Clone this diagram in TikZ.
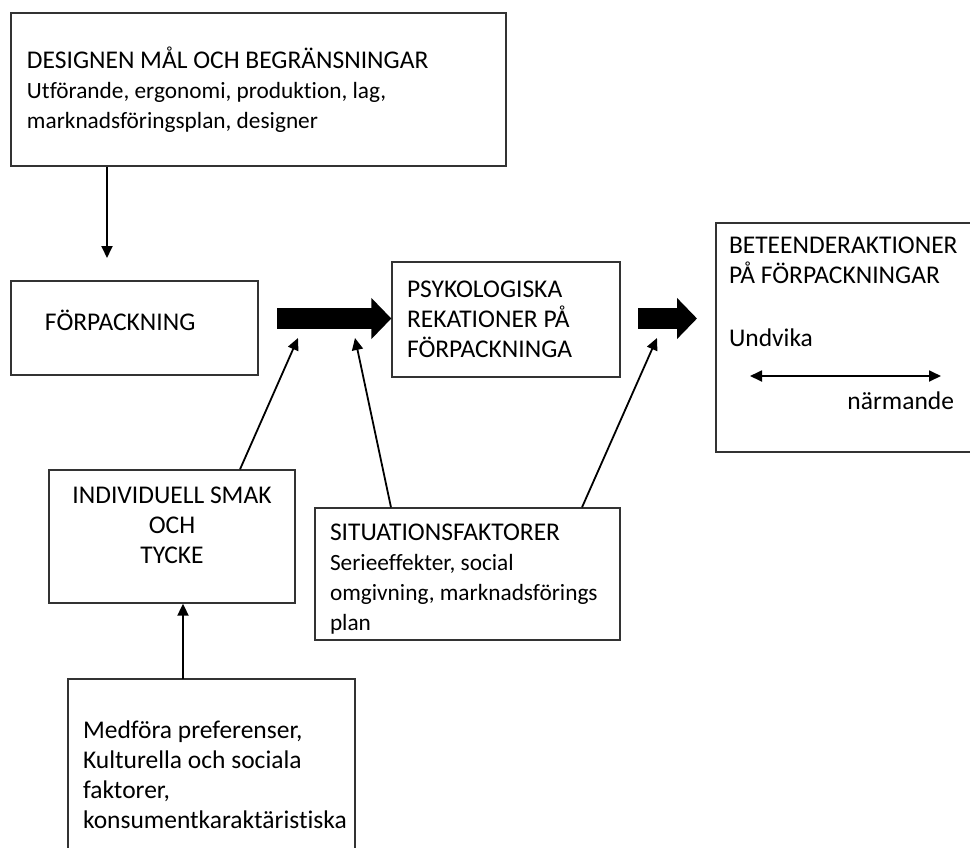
\documentclass[tikz,border=0pt]{standalone}
\usepackage{fontspec}
\setmainfont{Carlito}[Ligatures=NoCommon]
\usetikzlibrary{arrows.meta}
\hyphenpenalty=10000
\exhyphenpenalty=10000
\definecolor{boxline}{HTML}{333333}
\newcommand\bodysize{\fontsize{23.3}{30}\selectfont}
\tikzset{
  font=\fontsize{25.5}{30}\selectfont,
  box/.style={draw=boxline,line width=1.3pt,inner xsep=15pt,inner ysep=0pt,align=flush left},
  link/.style={-{Triangle[length=12pt,width=11pt]},line width=1.8pt},
  twoway/.style={{Triangle[length=12pt,width=11pt]}-{Triangle[length=12pt,width=11pt]},line width=1.8pt},
  bigarrow/.style={-{Triangle[length=20pt,width=40pt]},line width=21pt},
}
\begin{document}
\begin{tikzpicture}[x=1pt,y=-1pt]
  \useasboundingbox (0,0) rectangle (970,847);

  % boxes
  \node[box,inner xsep=16pt,minimum width=495pt,minimum height=153pt,text width=463pt] (design) at (258.5,89.5)
    {DESIGNEN MÅL OCH BEGRÄNSNINGAR\\\bodysize Utförande, ergonomi, produktion, lag,\\marknadsföringsplan, designer};
  \node[box,inner xsep=34pt,minimum width=247pt,minimum height=94pt,text width=179pt] (pack) at (134.5,328)
    {FÖRPACKNING\rule[-15pt]{0pt}{0pt}};
  \node[box,minimum width=228pt,minimum height=115pt,text width=198pt] (psych) at (506,319.5)
    {PSYKOLOGISKA\\REKATIONER~PÅ\\FÖRPACKNINGA};
  \node[box,inner xsep=13pt,minimum width=269pt,minimum height=229pt,text width=243pt] (behav) at (850.5,337.5)
    {BETEENDERAKTIONER\\PÅ FÖRPACKNINGAR\\[33pt]Undvika\\[33pt]\mbox{}\hfill närmande\hspace*{18pt}\rule[-28pt]{0pt}{0pt}};
  \node[box,align=center,minimum width=246pt,minimum height=133pt] (taste) at (172,536.5)
    {INDIVIDUELL SMAK\\OCH\\TYCKE\rule[-23.5pt]{0pt}{0pt}};
  \node[box,minimum width=305pt,minimum height=132pt,text width=275pt] (situation) at (467.5,574)
    {\rule{0pt}{26pt}SITUATIONSFAKTORER\\\bodysize Serieeffekter, social\\omgivning,~marknadsförings\\plan};
  \node[box,minimum width=287pt,minimum height=179.5pt,text width=257pt] (prior) at (211.5,768.75)
    {\rule{0pt}{30pt}Medföra preferenser,\\Kulturella och sociala\\faktorer,\\konsumentkaraktäristiska};

  % free ends
  \coordinate (packin) at (107,258);
  \coordinate (flowa) at (277,318.5);
  \coordinate (flowb) at (638,318.5);
  \coordinate (flowbend) at (697,318.5);
  \coordinate (tastehit) at (298,338);
  \coordinate (sithit) at (355,338);
  \coordinate (sitbeh) at (657,338);
  \coordinate (priorout) at (183,679);
  \coordinate (avoid) at (750,376);
  \coordinate (approach) at (941,376);

  % connectors
  \draw[link] (design.south -| packin) -- (packin);
  \draw[bigarrow] (flowa) -- (flowa -| psych.west);
  \draw[bigarrow] (flowb) -- (flowbend);
  \draw[link] ([xshift=68pt]taste.north) -- (tastehit);
  \draw[link] ([xshift=-76.5pt]situation.north) -- (sithit);
  \draw[link] ([xshift=114.5pt]situation.north) -- (sitbeh);
  \draw[link] (priorout) -- (priorout |- taste.south);
  \draw[twoway] (avoid) -- (approach);
\end{tikzpicture}
\end{document}
